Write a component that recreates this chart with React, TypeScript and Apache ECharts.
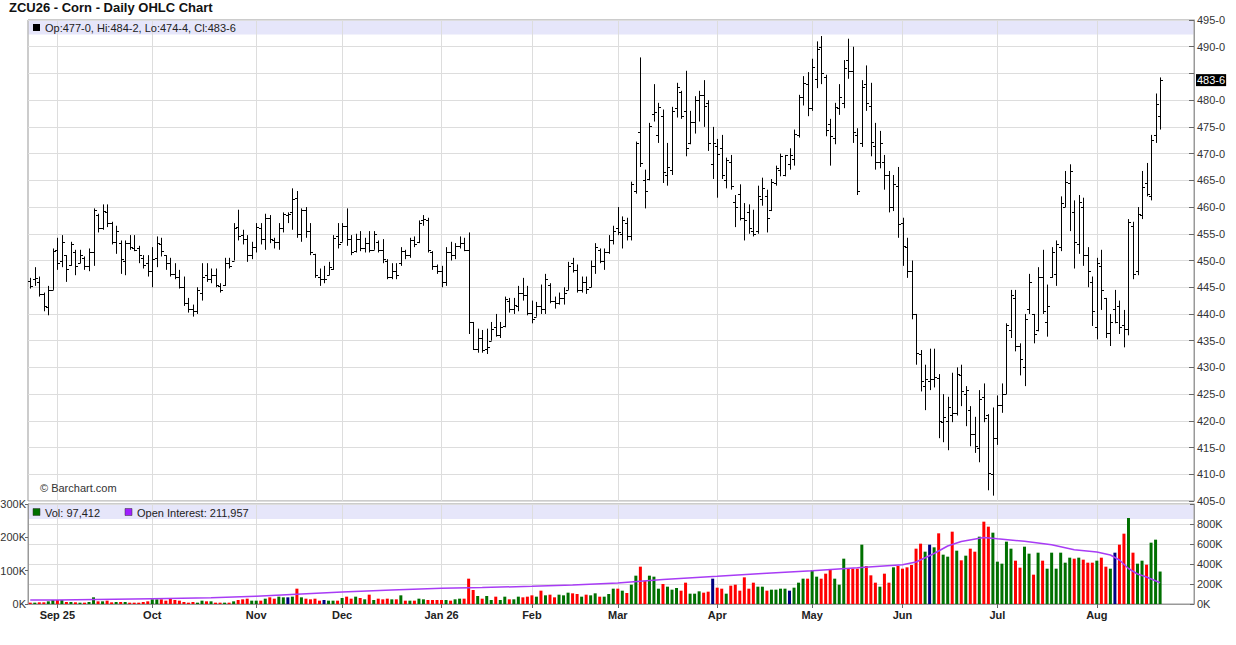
import { useEffect, useRef } from "react";
import * as echarts from "echarts";

const FONT = '"Liberation Sans", Arial, Helvetica, sans-serif';
const TITLE = "ZCU26 - Corn - Daily OHLC Chart";

// Trading calendar (CME holidays skipped).
const FIRST_DAY = "2025-08-22";
const LAST_DAY = "2026-08-21";
const HOLIDAYS = [
  "2025-09-01", "2025-11-27", "2025-12-25", "2026-01-01", "2026-01-19",
  "2026-02-16", "2026-04-03", "2026-05-25", "2026-06-19", "2026-07-03",
];
const EMPTY_SLOTS = 7;
const MONTH_NAMES = ["Jan", "Feb", "Mar", "Apr", "May", "Jun", "Jul", "Aug", "Sep", "Oct", "Nov", "Dec"];

const PRICE_MIN = 405;
const PRICE_MAX = 495;
const PRICE_STEP = 5;
const VOL_MAX_K = 300;
const VOL_STEP_K = 100;
const OI_MAX_K = 1000;
const OI_STEP_K = 200;
const OI_LABEL_MAX_K = 800;

// [open, high, low, close]
const OHLC: number[][] = [
  // late Aug 25
  [446.25, 446.75, 444.75, 445.25], [446.5, 448.75, 445.25, 446.75], [446, 447, 443.25, 443.75],
  [443.75, 444, 440.5, 441.5], [441.25, 445.25, 439.75, 444.5], [444.5, 452.25, 444.5, 451.75],
  // Sep
  [452, 454.25, 448.25, 449.5], [450, 454.75, 448.75, 453.5], [451, 451, 446, 448.5],
  [449.25, 453.5, 449, 453], [451.5, 452, 447.25, 449], [449.5, 452, 449.5, 451],
  [450.5, 450.75, 448.25, 449], [449, 452.25, 448, 451.5], [451.5, 459.75, 449, 459.5],
  [458.5, 458.75, 455.25, 456], [456, 460.5, 455.75, 459.25], [459, 460.5, 456.25, 457],
  [457, 457.25, 453, 453.5], [453.5, 456.5, 451.25, 455.5], [453.25, 453.75, 447.5, 450.25],
  [450, 453.75, 447.25, 453.25], [453.25, 454.75, 452, 452.5], [452.25, 454.75, 451.75, 452],
  [452.25, 452.75, 449.5, 451], [450.5, 451, 448.5, 449.25], [449.5, 451, 447, 448],
  // Oct
  [448, 452.5, 445, 450.25], [450.5, 454.5, 448.75, 453.25], [453, 454.25, 450.75, 451.75],
  [451, 451, 448.25, 449.5], [449.5, 450.5, 447, 447.5], [447.5, 449.5, 446.5, 447],
  [447, 448.25, 444.75, 445], [445, 447, 441.5, 442], [442, 443, 440.25, 441],
  [441, 441.75, 439.5, 440.5], [440.5, 445, 440, 444.5], [444, 449.5, 442.5, 447],
  [447.25, 449.5, 446, 446.5], [446.5, 448.5, 445.75, 447.25], [447.25, 448.5, 445, 445.5],
  [445.25, 445.75, 444, 444.5], [445.5, 450.5, 445.25, 449.5], [449.5, 450.5, 448.5, 449],
  [450, 457, 450, 456], [456.25, 459.5, 453.75, 454.5], [454.75, 455.75, 453, 454],
  [454, 454.75, 449.75, 451], [451, 453.5, 450.25, 452.5],
  // Nov
  [452.5, 457, 451.5, 456.25], [456, 457, 453, 454], [454, 458.75, 452, 458],
  [458, 458.5, 453.25, 454], [453.75, 454.25, 452.25, 453.5], [453.5, 457, 452, 456],
  [456, 459, 455.25, 458.75], [458.5, 459, 457, 458.75], [459, 463.5, 455.75, 461.5],
  [461.75, 463, 454.25, 455], [455, 459.75, 453.5, 459.5], [459.5, 460, 454.25, 455.5],
  [455.5, 457, 451, 451.5], [451.25, 451.25, 446.75, 447.25], [447, 448.5, 445.25, 446.5],
  [446.5, 449, 445.75, 446.5], [447.25, 449.75, 447.25, 448.75], [448.5, 454.75, 448.25, 454.25],
  [454.5, 457, 452.25, 453],
  // Dec
  [453.5, 457, 453.5, 456.5], [456.5, 459.75, 452.75, 454], [454, 454.75, 451, 451.5],
  [451.75, 455, 451.5, 454], [454, 455.5, 451.75, 452.25], [452.25, 454.25, 451.5, 453.25],
  [453.25, 455.5, 451.5, 452], [452, 455.5, 452, 455], [453.5, 453.75, 451.5, 452],
  [452, 454, 449.5, 450.25], [450, 450.25, 446.5, 447], [447, 449.5, 446.5, 448],
  [448, 449.5, 446.5, 447.25], [449.5, 452.5, 449, 451.75], [451.75, 452, 450.25, 451],
  [451, 454.25, 450.5, 453.75], [453.75, 454.5, 452.5, 453], [453.5, 457.5, 453.25, 457],
  [457.5, 458.5, 456.5, 457.75], [457.5, 458, 451.5, 452], [451.5, 451.75, 448.25, 449],
  [449, 449.25, 447.5, 448],
  // Jan 26
  [448, 449, 445, 446], [446, 452.5, 445.25, 451.5], [451.5, 453.5, 450, 451],
  [451, 453.25, 450.25, 452.75], [452.75, 454.5, 452.25, 453.25], [453.25, 454.25, 451.75, 452],
  [452, 455.25, 436.25, 438.5], [438.5, 438.5, 433.25, 433.5], [433.5, 437.25, 432.75, 435.5],
  [435.5, 437, 432.75, 433.25], [433.5, 437.25, 432.5, 433.75], [435, 438.5, 435, 437.25],
  [437.5, 440, 435.75, 436], [436, 438.5, 435.5, 437.5], [437.75, 443.25, 437.5, 442.75],
  [442.5, 443, 440.25, 441], [441, 443, 440, 441.75], [441.5, 445.25, 440.5, 444],
  [444, 446.75, 442.5, 443.5], [443.5, 445.25, 439.75, 440.25],
  // Feb
  [440.25, 442.5, 438.25, 439], [439.5, 442.25, 439.5, 441.5], [441.5, 445.5, 440, 441],
  [441, 447.5, 440, 446.5], [445.5, 445.75, 442, 442.5], [442.5, 443.25, 441, 442],
  [442, 444, 441.75, 443], [443, 445, 441.75, 444], [444.5, 449.75, 444.5, 449],
  [449.5, 450.5, 447.75, 448.25], [448.25, 449.25, 444, 444.5], [444.5, 447, 444, 446],
  [446, 447, 443.75, 444.75], [445, 450, 445, 449], [449, 453.25, 447.5, 452.5],
  [452, 452.25, 449.5, 450], [450, 452.25, 448.25, 451.5], [451.5, 454.75, 451.25, 453.75],
  [453.75, 456.5, 453, 455.5],
  // Mar
  [456, 460, 454.75, 455.25], [455, 458.25, 452.25, 457.5], [457, 458, 453.75, 454.5],
  [454.5, 464.75, 453.75, 464.25], [463, 472.25, 462.5, 472], [474, 488, 467.5, 468.25],
  [465, 467, 459.75, 463], [465.25, 475.75, 465, 475.25], [477.5, 483, 476, 477.75],
  [473.5, 479.5, 472, 478.75], [477, 478.25, 464.5, 466.5], [466, 472, 464, 467.5],
  [467, 478.75, 466, 478], [478.5, 483.25, 476.75, 482.5], [481.5, 481.75, 476.5, 477],
  [478, 485.5, 469.5, 471], [472, 478, 471.75, 476], [476, 480.75, 473.75, 480],
  [480, 481.75, 476, 481], [481, 483.75, 475, 479], [479.5, 480, 470.5, 472],
  [468, 475, 465.25, 472],
  // Apr
  [471.5, 472.75, 461.75, 470], [471, 473.5, 465.25, 466], [465, 469.25, 463.5, 468.75],
  [468.5, 469.75, 463.25, 464], [461, 462.25, 456.25, 460], [462.5, 464.25, 457.5, 458],
  [458, 460.75, 453.75, 457.5], [459, 460.5, 455, 456], [455.5, 459.5, 454.5, 455],
  [455.5, 464, 455, 462], [461.5, 465.5, 460.25, 463.5], [462, 463.25, 455.25, 458],
  [459.5, 465.25, 459.25, 464.75], [464.5, 467.75, 464, 467.25], [467, 470, 465.75, 469.5],
  [466, 469.75, 465.75, 469.75], [468, 471, 467, 469.75], [469, 474.5, 467.75, 473.75],
  [473.5, 481, 473, 480.5], [480.5, 484.5, 479, 483.25], [483, 485.25, 477, 478.5],
  // May
  [478.5, 487.75, 478, 486.25], [484, 491, 482.25, 489.5], [490, 492, 483, 485],
  [484.25, 484.75, 473.25, 474.5], [475.5, 476.5, 467.75, 473.25], [473, 479.5, 471.75, 478.75],
  [478.5, 483, 477.25, 480.5], [479.5, 487.5, 478.5, 486], [487.5, 491.5, 484, 485.5],
  [485.5, 490, 472, 474], [473.5, 474.75, 462.25, 463], [472, 483.75, 471.25, 482.5],
  [483, 486.5, 478, 479.5], [479, 483.25, 469.5, 472.25], [471.5, 475.75, 467, 468.5],
  [468.5, 474.25, 467.25, 472], [468.5, 469.75, 463.25, 466], [466, 466.75, 459, 460],
  [460, 466, 459.25, 464.25], [464, 467.5, 454.25, 456.75],
  // Jun
  [457, 458, 449, 452.75], [452.5, 454.25, 446.75, 448], [448, 450, 439, 440],
  [440, 440, 430.5, 432.75], [432.5, 433.25, 425.5, 427.5], [426.5, 430.5, 422, 427.75],
  [427.5, 433.5, 425.75, 427.75], [427.75, 433.5, 426.25, 428.25], [428, 428.75, 416.75, 420],
  [419.75, 425, 416, 420.75], [420, 424.5, 414.5, 422.5], [421, 429, 419.75, 421.5],
  [421.5, 430, 421, 428.75], [428.5, 430.5, 422.75, 425.5], [425, 426.5, 419, 425.75],
  [422, 422.75, 415.25, 417.5], [417.5, 420.75, 414, 415.25], [415, 425.75, 412.25, 424],
  [424.5, 427, 419.75, 420.5], [421, 421.25, 407, 410.25], [410, 422.5, 406, 416.75],
  // Jul
  [416.75, 424.75, 415.5, 423], [423, 427, 421.5, 425], [425, 438.25, 425, 438],
  [437, 444.5, 435.5, 443.5], [443, 444.5, 433, 434], [434, 434.5, 428.5, 431.5],
  [430, 440, 426.5, 439], [441, 447.5, 440, 446], [440, 440, 434.5, 436.25],
  [437, 448.75, 436.75, 447], [447, 452, 440, 440.5], [438.5, 445.5, 435.75, 441.5],
  [447, 452.5, 446.75, 451.5], [447.5, 453.75, 445.25, 453], [452.5, 462, 451.75, 460.75],
  [460, 466.75, 460, 464.75], [464.5, 468, 455.5, 466.75], [459, 461.25, 448.5, 453.5],
  [453, 462.25, 451.25, 461], [460, 461.75, 449, 451], [451, 452.5, 445, 448],
  [446, 447, 437.75, 440.5],
  // Aug
  [437.5, 450.5, 435.25, 449.5], [449, 452, 440.75, 444.5], [443, 443, 435.5, 436.5],
  [436.5, 440, 434, 438.5], [441, 444.5, 438.25, 438.5], [441.5, 442.5, 436.25, 437.5],
  [438, 440.75, 433.75, 437.25], [437.25, 457.75, 436, 457.25], [456.5, 457.25, 446.5, 447.5],
  [448, 460, 447.25, 458.75], [458.5, 466.75, 457.75, 463.75], [464.5, 468.25, 462, 462.5],
  [462, 473.5, 461.25, 472.5], [473.5, 481.25, 472, 479.25], [477, 484.25, 474.5, 483.75],
];

// Daily volume, thousands of contracts.
const VOLUME_K = [
  4, 4, 5, 5, 8, 12,
  12, 12, 6, 6, 5, 4, 4, 6, 20, 8, 8, 10, 5, 6, 6, 6, 4, 4, 4, 6, 8,
  14, 14, 14, 10, 16, 12, 10, 6, 4, 6, 4, 10, 8, 8, 4, 4, 4, 4, 8, 12, 14, 16, 10,
  10, 10, 16, 20, 16, 22, 20, 20, 22, 46, 20, 16, 14, 16, 10, 12, 10, 10, 10,
  18, 22, 16, 22, 18, 14, 28, 12, 16, 14, 16, 14, 14, 26, 10, 10, 10, 16, 14, 12, 12, 12,
  12, 12, 10, 14, 16, 16, 76, 42, 24, 16, 24, 12, 22, 12, 22, 14, 14, 22, 20, 22,
  26, 22, 40, 26, 28, 20, 28, 26, 34, 32, 30, 22, 28, 26, 32, 22, 22, 30, 46,
  46, 40, 33, 58, 85, 112, 70, 85, 82, 46, 60, 52, 43, 48, 40, 64, 31, 31, 38, 34, 37, 76,
  49, 46, 31, 55, 58, 40, 80, 46, 64, 52, 52, 40, 43, 43, 46, 46, 40, 49, 64, 76, 76,
  101, 82, 76, 91, 103, 76, 58, 136, 106, 106, 106, 178, 114, 86, 64, 52, 91, 64, 110, 114,
  106, 110, 117, 166, 181, 157, 178, 170, 212, 148, 142, 217, 160, 131, 145, 166, 157, 202, 247, 232, 214,
  127, 121, 187, 166, 130, 109, 172, 151, 88, 154, 130, 106, 154, 106, 154, 124, 139, 136, 139, 133, 124, 124,
  130, 139, 112, 106, 154, 178, 211, 258, 154, 121, 130, 118, 184, 193, 97.412,
];

// Open interest, thousands: [bar index, value].
const OI_K: number[][] = [
  [0, 40], [6, 41], [27, 53], [40, 62], [50, 77], [60, 100], [69, 120], [80, 140],
  [91, 157], [100, 165], [111, 177], [120, 190], [130, 210], [140, 245], [152, 277],
  [162, 305], [173, 333], [183, 362], [193, 393], [196, 420], [200, 505], [203, 580],
  [206, 625], [211, 665], [214, 652], [220, 627], [226, 593], [231, 543], [236, 520],
  [239, 490], [241, 440], [243, 355], [245, 300], [247, 270], [250, 211.957],
];

const GREEN = "#007000";
const RED = "#ff0000";
const NAVY = "#000080";
const OI_COLOR = "#a83cf5";
const BAND = "#e6e6fa";
const GRID_LINE = "#dddddd";

function tradingDays(): string[] {
  const out: string[] = [];
  const d = new Date(FIRST_DAY + "T00:00:00Z");
  const end = new Date(LAST_DAY + "T00:00:00Z");
  while (d <= end) {
    const s = d.toISOString().slice(0, 10);
    const wd = d.getUTCDay();
    if (wd !== 0 && wd !== 6 && !HOLIDAYS.includes(s)) out.push(s);
    d.setUTCDate(d.getUTCDate() + 1);
  }
  return out;
}

const fmtPrice = (v: number) => {
  const w = Math.floor(v + 1e-9);
  return `${w}-${Math.round((v - w) * 8)}`;
};
const fmtInt = (v: number) => Math.round(v).toLocaleString("en-US");

export default function App() {
  const chartRef = useRef<HTMLDivElement>(null);

  useEffect(() => {
    if (!chartRef.current) return;
    document.body.style.margin = "0";
    const chart = echarts.init(chartRef.current, undefined, { renderer: "svg" });

    const dates = tradingDays();
    const cats = [...dates, ...Array.from({ length: EMPTY_SLOTS }, (_, i) => `pad${i}`)];
    const starts = new Set<number>();
    dates.forEach((d, i) => {
      if (i > 0 && d.slice(5, 7) !== dates[i - 1].slice(5, 7)) starts.add(i);
    });
    const firstStart = Math.min(...starts);
    const isStart = (i: number) => starts.has(i);
    const monthLabel = (_v: string, i: number) => {
      if (!starts.has(i)) return "";
      const d = dates[i];
      const m = Number(d.slice(5, 7));
      const name = MONTH_NAMES[m - 1];
      return m === 1 || i === firstStart ? `${name} ${d.slice(2, 4)}` : name;
    };

    const last = OHLC[OHLC.length - 1];
    const lastClose = last[3];
    const volColor = (i: number) => {
      const prev = i > 0 ? OHLC[i - 1][3] : OHLC[i][0];
      const c = OHLC[i][3];
      return c > prev ? GREEN : c < prev ? RED : NAVY;
    };

    const txt = (x: number, y: number, text: string, extra: any = {}) => ({
      type: "text", x, y, z: 10,
      style: { text, fill: "#222", font: `11px ${FONT}`, verticalAlign: "middle", textVerticalAlign: "middle", ...extra },
    });

    chart.setOption({
      animation: false,
      textStyle: { fontFamily: FONT },
      title: {
        text: TITLE, left: 9, top: 1, padding: 0,
        textStyle: { fontSize: 13, fontWeight: "bold", color: "#111", fontFamily: FONT },
      },
      grid: [
        { left: 28, right: 42, top: 20, height: 481, show: true, borderColor: "#999", borderWidth: 1, outerBoundsMode: "none" },
        { left: 28, right: 42, top: 504, height: 100, show: true, borderColor: "#999", borderWidth: 1, outerBoundsMode: "none" },
      ],
      xAxis: [
        {
          type: "category", gridIndex: 0, data: cats,
          axisLine: { show: false }, axisTick: { show: false }, axisLabel: { show: false },
          splitLine: { show: true, interval: isStart, alignWithLabel: true, lineStyle: { color: GRID_LINE } },
        },
        {
          type: "category", gridIndex: 1, data: cats,
          axisLine: { show: true, lineStyle: { color: "#999" } },
          axisTick: { show: true, interval: isStart, alignWithLabel: true, length: 4, lineStyle: { color: "#666" } },
          axisLabel: { interval: isStart, formatter: monthLabel, fontWeight: "bold", fontSize: 11, color: "#222", margin: 5 },
          splitLine: { show: true, interval: isStart, alignWithLabel: true, lineStyle: { color: GRID_LINE } },
        },
      ],
      yAxis: [
        {
          type: "value", gridIndex: 0, position: "right", min: PRICE_MIN, max: PRICE_MAX, interval: PRICE_STEP,
          axisLine: { show: true, lineStyle: { color: "#999" } },
          axisTick: { show: true, inside: true, length: 5, lineStyle: { color: "#666" } },
          axisLabel: {
            fontSize: 11, color: "#333", margin: 3,
            formatter: (v: number) => (Math.abs(v - lastClose) < 2.5 ? "" : fmtPrice(v)),
          },
          splitLine: { show: true, lineStyle: { color: GRID_LINE } },
        },
        {
          type: "value", gridIndex: 0, position: "right", min: PRICE_MIN, max: PRICE_MAX,
          axisLine: { show: false }, axisTick: { show: false }, splitLine: { show: false },
          axisLabel: {
            customValues: [lastClose], formatter: (v: number) => fmtPrice(v),
            fontSize: 11, color: "#fff", backgroundColor: "#000", padding: [1, 1, 0, 1], margin: 2,
          },
        },
        {
          type: "value", gridIndex: 1, position: "left", min: 0, max: VOL_MAX_K, interval: VOL_STEP_K,
          axisLine: { show: true, lineStyle: { color: "#999" } },
          axisTick: { show: true, length: 3, lineStyle: { color: "#666" } },
          axisLabel: { fontSize: 11, color: "#333", margin: 2, formatter: (v: number) => `${v}K` },
          splitLine: { show: false },
        },
        {
          type: "value", gridIndex: 1, position: "right", min: 0, max: OI_MAX_K, interval: OI_STEP_K,
          axisLine: { show: true, lineStyle: { color: "#999" } },
          axisTick: { show: true, inside: true, length: 4, lineStyle: { color: "#666" } },
          axisLabel: { fontSize: 11, color: "#333", margin: 3, formatter: (v: number) => (v > OI_LABEL_MAX_K ? "" : `${v}K`) },
          splitLine: { show: true, lineStyle: { color: GRID_LINE } },
        },
      ],
      series: [
        {
          type: "custom", name: "OHLC", xAxisIndex: 0, yAxisIndex: 0, clip: true,
          data: OHLC.map((r, i) => [i, ...r]),
          encode: { x: 0, y: [1, 2, 3, 4] },
          renderItem: (_p: any, api: any) => {
            const i = api.value(0);
            const [x, yO] = api.coord([i, api.value(1)]);
            const yH = api.coord([i, api.value(2)])[1];
            const yL = api.coord([i, api.value(3)])[1];
            const yC = api.coord([i, api.value(4)])[1];
            const cx = Math.round(x) + 0.5;
            const ro = Math.round(yO) + 0.5;
            const rc = Math.round(yC) + 0.5;
            const style = { stroke: "#000", lineWidth: 1 };
            return {
              type: "group",
              children: [
                { type: "line", shape: { x1: cx, y1: yH, x2: cx, y2: yL }, style },
                { type: "line", shape: { x1: cx - 2.5, y1: ro, x2: cx, y2: ro }, style },
                { type: "line", shape: { x1: cx, y1: rc, x2: cx + 2.5, y2: rc }, style },
              ],
            };
          },
        },
        {
          type: "bar", name: "Vol", xAxisIndex: 1, yAxisIndex: 2, barWidth: 3,
          data: VOLUME_K.map((v, i) => ({ value: v, itemStyle: { color: volColor(i) } })),
        },
        {
          type: "line", name: "Open Interest", xAxisIndex: 1, yAxisIndex: 3, showSymbol: false, z: 5,
          data: OI_K, lineStyle: { color: OI_COLOR, width: 1.5 },
        },
      ],
      graphic: [
        { type: "rect", z: -1, shape: { x: 28.5, y: 20.5, width: 1165, height: 14 }, style: { fill: BAND } },
        { type: "rect", z: -1, shape: { x: 28.5, y: 505, width: 1165, height: 14 }, style: { fill: BAND } },
        { type: "rect", z: 10, shape: { x: 33, y: 24, width: 7, height: 7 }, style: { fill: "#000" } },
        txt(45, 28, `Op:${fmtPrice(last[0])}, Hi:${fmtPrice(last[1])}, Lo:${fmtPrice(last[2])}, Cl:${fmtPrice(last[3])}`),
        { type: "rect", z: 10, shape: { x: 33, y: 508.5, width: 7, height: 7 }, style: { fill: GREEN, stroke: "#333", lineWidth: 0.5 } },
        txt(45, 512.5, `Vol: ${fmtInt(VOLUME_K[VOLUME_K.length - 1] * 1000)}`),
        { type: "rect", z: 10, shape: { x: 125, y: 508.5, width: 7, height: 7 }, style: { fill: "#9f1fff", stroke: "#333", lineWidth: 0.5 } },
        txt(137, 512.5, `Open Interest: ${fmtInt(OI_K[OI_K.length - 1][1] * 1000)}`),
        txt(40, 488, "\u00a9 Barchart.com", { fill: "#333" }),
      ],
    });

    return () => chart.dispose();
  }, []);

  return <div ref={chartRef} style={{ width: 1236, height: 645 }} />;
}
